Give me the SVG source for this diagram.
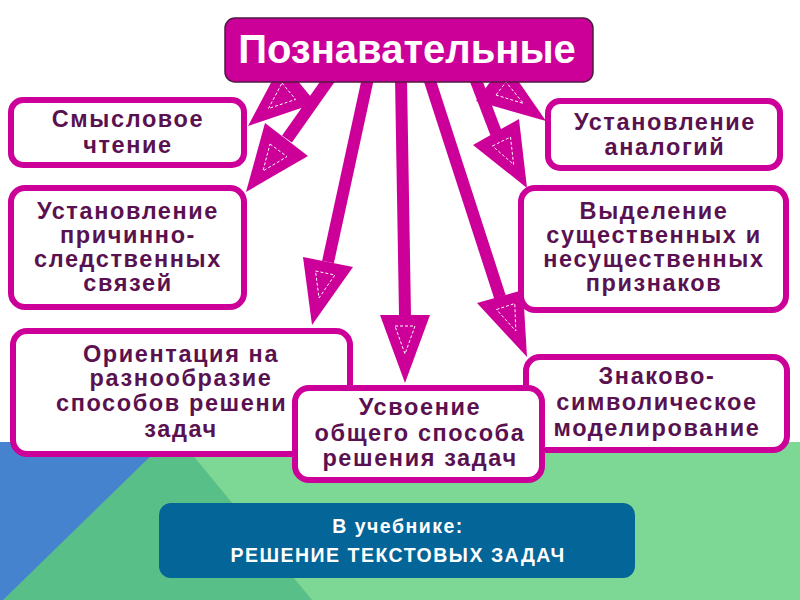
<svg xmlns="http://www.w3.org/2000/svg" width="800" height="600" viewBox="0 0 800 600">
<style>
.box{fill:#fff;stroke:#cc0099;stroke-width:6}
.t{font-family:"Liberation Sans",Arial,sans-serif;font-weight:bold;font-size:23.5px;fill:#5a1150;letter-spacing:1.6px;text-anchor:middle}
.w{font-family:"Liberation Sans",Arial,sans-serif;font-weight:bold;font-size:19.5px;fill:#fff;letter-spacing:1.5px;text-anchor:middle}
.shaft{stroke:#cc0099;stroke-width:12;fill:none}
.head{fill:#cc0099}
.dash{fill:none;stroke:#fff;stroke-width:1;stroke-dasharray:3 2}
</style>
<rect width="800" height="600" fill="#fff"/>
<g id="background">
<rect x="0" y="442" width="800" height="158" fill="#7dd795"/>
<polygon points="164,442 182,442 312,600 0,600" fill="#58bf89"/>
<polygon points="0,442 165,442 3,600 0,600" fill="#4683cf"/>
</g>
<g id="connectors">
<line class="shaft" x1="330" y1="78" x2="287" y2="139"/>
<line class="shaft" x1="368" y1="78" x2="328" y2="262"/>
<line class="shaft" x1="401" y1="78" x2="405" y2="315"/>
<line class="shaft" x1="429" y1="78" x2="500" y2="297"/>
<line class="shaft" x1="475" y1="78" x2="496" y2="133"/>
<polygon class="head" points="282,62 316,103 248,126"/>
<polygon class="head" points="265,123 308,156 246,192"/>
<polygon class="head" points="303,257 353,267 312,325"/>
<polygon class="head" points="380,315 430,315 405,383"/>
<polygon class="head" points="477,303 523,290 527,357"/>
<polygon class="head" points="473,145 519,119 527,188"/>
<polygon class="head" points="476,101 505,62 546,121"/>
<polygon class="dash" points="282,83 295.6,99.4 268.4,108.6"/>
<polygon class="dash" points="270,144 287,156.6 263,171"/>
<polygon class="dash" points="315.5,271 334.8,275 319,298"/>
<polygon class="dash" points="395,326 415,326 405,354"/>
<polygon class="dash" points="496.5,309.5 514.8,303.5 515.8,331"/>
<polygon class="dash" points="492.5,146 510.5,137 513.6,164.5"/>
<polygon class="dash" points="496,95 506,82 523.5,103.5"/>
</g>
<g id="box1">
<rect class="box" x="11" y="100" width="233" height="65" rx="12"/>
<text class="t" x="128" y="127">Смысловое</text>
<text class="t" x="128" y="153">чтение</text>
</g>
<g id="box2">
<rect class="box" x="11" y="188" width="233" height="119" rx="14"/>
<text class="t" x="128" y="219">Установление</text>
<text class="t" x="128" y="243">причинно-</text>
<text class="t" x="128" y="267">следственных</text>
<text class="t" x="128" y="291">связей</text>
</g>
<g id="box3">
<rect class="box" x="548" y="101" width="232" height="67" rx="12"/>
<text class="t" x="665" y="130">Установление</text>
<text class="t" x="665" y="155">аналогий</text>
</g>
<g id="box4">
<rect class="box" x="521" y="188" width="265" height="122" rx="14"/>
<text class="t" x="654" y="219">Выделение</text>
<text class="t" x="654" y="243">существенных и</text>
<text class="t" x="654" y="267">несущественных</text>
<text class="t" x="654" y="291">признаков</text>
</g>
<g id="box5">
<rect class="box" x="13" y="331" width="337" height="123" rx="14"/>
<text class="t" x="181" y="362">Ориентация на</text>
<text class="t" x="181" y="386">разнообразие</text>
<text class="t" x="56" y="411" style="text-anchor:start">способов решени</text>
<text class="t" x="181" y="437">задач</text>
</g>
<g id="box7">
<rect class="box" x="526" y="357" width="261" height="93" rx="14"/>
<text class="t" x="657" y="384">Знаково-</text>
<text class="t" x="657" y="410">символическое</text>
<text class="t" x="657" y="436">моделирование</text>
</g>
<g id="box6">
<rect class="box" x="295" y="388" width="247" height="92" rx="14"/>
<text class="t" x="420" y="415">Усвоение</text>
<text class="t" x="420" y="441">общего способа</text>
<text class="t" x="420" y="466">решения задач</text>
</g>
<g id="title">
<rect x="225" y="18" width="368" height="64" rx="10" fill="#cc0099" stroke="#4d1a40" stroke-width="1.5"/>
<text x="407" y="63" font-family="Liberation Sans, Arial, sans-serif" font-weight="bold" font-size="40" fill="#fff" text-anchor="middle">Познавательные</text>
</g>
<g id="textbook">
<rect x="159" y="503" width="476" height="75" rx="12" fill="#036598"/>
<text class="w" x="398" y="533">В учебнике:</text>
<text class="w" x="398" y="562">РЕШЕНИЕ ТЕКСТОВЫХ ЗАДАЧ</text>
</g>
</svg>
